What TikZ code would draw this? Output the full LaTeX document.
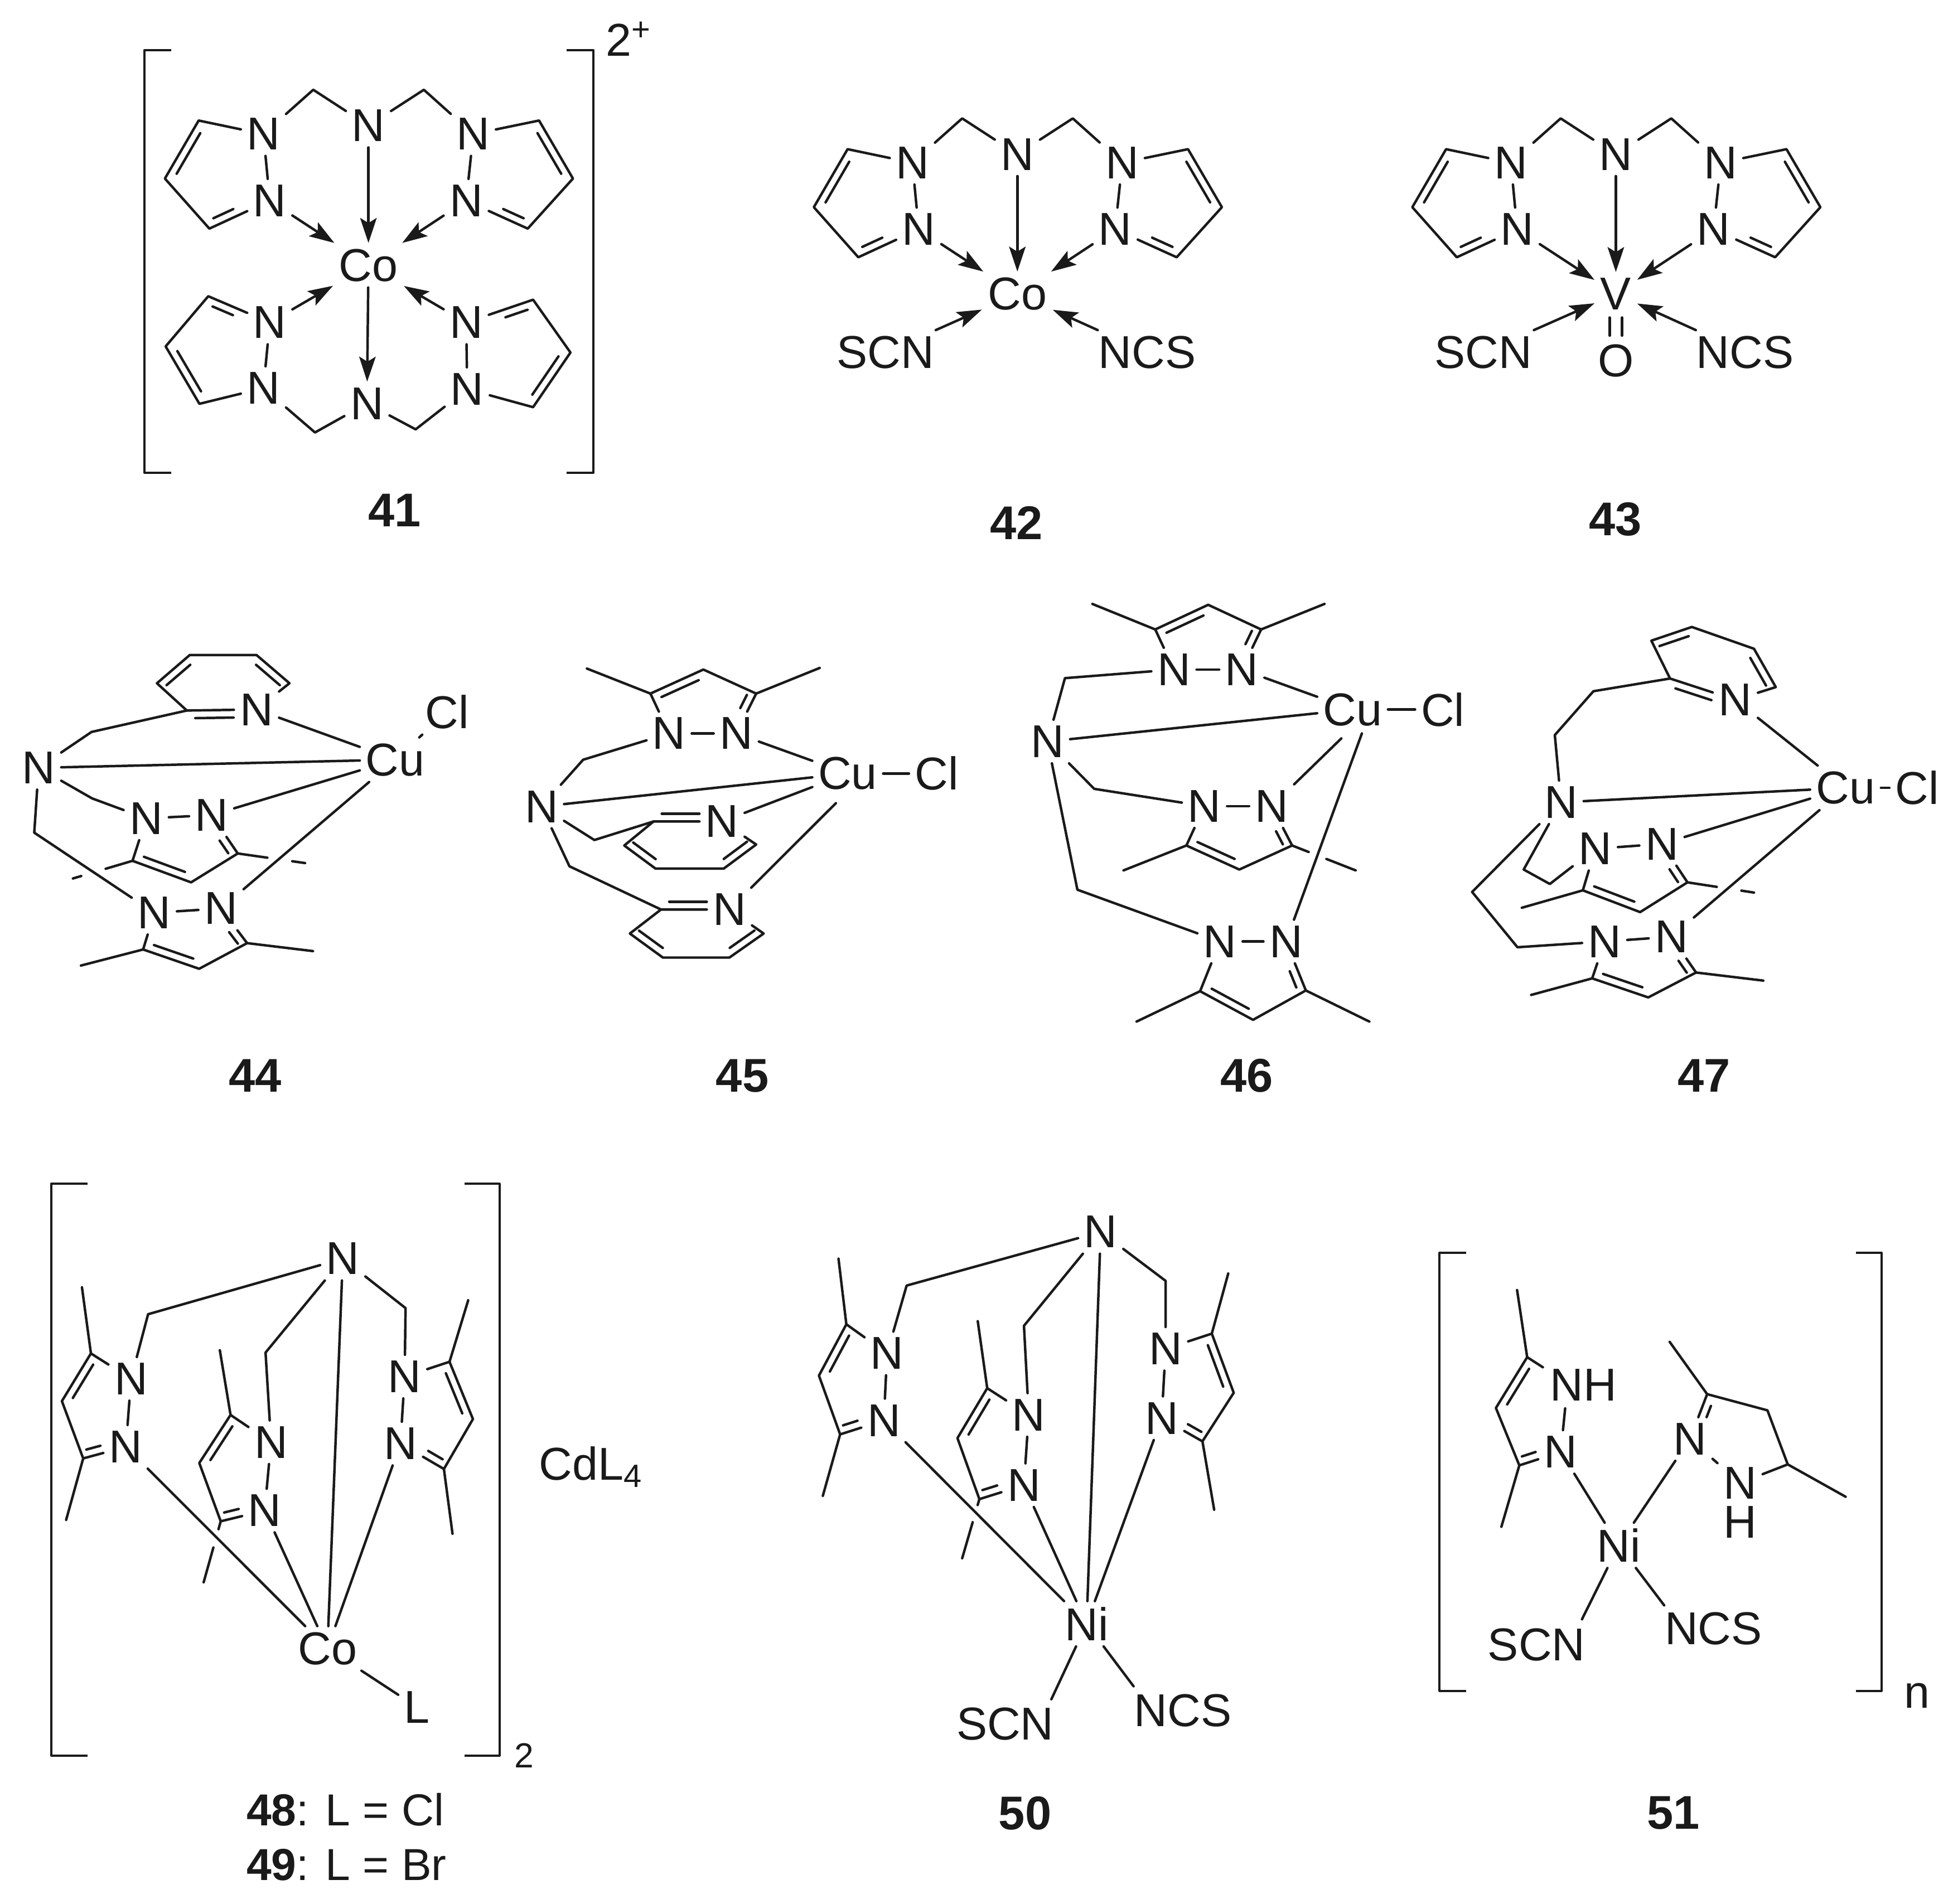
\documentclass[tikz,border=0pt]{standalone}
\usepackage{fontspec}
\setmainfont{Liberation Sans}
\usetikzlibrary{calc,arrows.meta}
\definecolor{ink}{HTML}{1A1A1A}
\tikzset{
  atom/.style={font=\fontsize{18.5}{22}\selectfont, inner sep=2.4pt, outer sep=0pt, text=ink},
  lab/.style={font=\fontsize{18.5}{22}\selectfont, inner sep=0pt, text=ink},
  cmpd/.style={font=\fontsize{19}{22}\selectfont\bfseries, inner sep=0pt, text=ink},
  caption/.style={font=\fontsize{18}{22}\selectfont, inner sep=0pt, text=ink},
  dative/.style={-{Stealth[length=10pt,width=6.6pt,inset=2pt]}},
  bracket/.style={line width=0.85pt,line cap=butt}
}
\newcommand\dblsep{3.1pt}
\newcommand\inb[5]{\draw ($(#1)!#4!(#2)!\dblsep!#3:(#2)$) -- ($(#1)!#5!(#2)!\dblsep!#3:(#2)$);}
\newcommand\pz[7]{%
  \node[atom] (#1a) at (#2) {N};
  \node[atom] (#1b) at (#3) {N};
  \coordinate (#1c) at (#4);
  \coordinate (#1d) at (#5);
  \coordinate (#1e) at (#6);
  \draw (#1a) -- (#1b);
  \draw (#1a) -- (#1c) -- (#1d) -- (#1e) -- (#1b);
  \inb{#1c}{#1d}{#7}{.15}{.85}
  \inb{#1e}{#1b}{#7}{.12}{.45}}
\newcommand\py[8]{%
  \node[atom] (#1n) at (#2) {N};
  \coordinate (#1a) at (#3);
  \coordinate (#1b) at (#4);
  \coordinate (#1c) at (#5);
  \coordinate (#1d) at (#6);
  \coordinate (#1e) at (#7);
  \draw (#1n) -- (#1a) -- (#1b) -- (#1c) -- (#1d) -- (#1e) -- (#1n);
  \inb{#1a}{#1n}{#8}{.12}{.67}
  \inb{#1b}{#1c}{#8}{.14}{.86}
  \inb{#1d}{#1e}{#8}{.14}{.86}}
\newcommand\me[3]{\coordinate (#1) at (#3); \draw (#2) -- (#1);}
\newcommand\brk[4]{\draw (#1) -- ($(#1)!#3!(#2)$); \draw ($(#1)!#4!(#2)$) -- (#2);}
\newcommand\topunit[2]{%
  \node[atom] (#1N) at (295.8,100.9) {N};
  \node[atom] (#1M) at (295.8,213) {#2};
  \pz{#1l}{211.5,107.7}{216.6,161.2}{159.5,96.8}{132.4,143.4}{168.1,183.6}{90}
  \pz{#1r}{380,107.7}{374.3,161.2}{432.8,96.8}{460,143.4}{423.7,183.6}{-90}
  \coordinate (#1p) at (251.5,72.1);
  \coordinate (#1q) at (340.3,72.1);
  \draw (#1la) -- (#1p) -- (#1N);
  \draw (#1N) -- (#1q) -- (#1ra);
  \draw[dative] (#1N) -- (#1M);
  \draw[dative] (#1lb) -- (#1M);
  \draw[dative] (#1rb) -- (#1M);}
\begin{document}
\begin{tikzpicture}[x=0.5pt,y=-0.5pt,line width=1pt,line cap=round,line join=round,draw=ink,color=ink]
\useasboundingbox (0,0) rectangle (1568,1529);
\fill[white] (0,0) rectangle (1568,1529);

% ---------- 41
\draw[bracket] (137.5,40.3) -- (115.8,40.3) -- (115.8,379.6) -- (137.5,379.6);
\draw[bracket] (455.1,40.3) -- (476.5,40.3) -- (476.5,379.6) -- (455.1,379.6);
\node[lab,anchor=base west] (charge) at (485.5,45) {2\textsuperscript{+}};
\topunit{A}{Co}
\node[atom] (AN2) at (294.6,324) {N};
\pz{Ab}{211.5,311.7}{216.6,259}{160.1,324.3}{133,278.2}{167.2,237.9}{-90}
\pz{Ac}{375.1,312.5}{374.3,259}{428,327}{458,283.1}{428,240.7}{90}
\coordinate (Ap2) at (252.9,347.3);
\coordinate (Aq2) at (333.7,344.8);
\draw (Aba) -- (Ap2) -- (AN2);
\draw (AN2) -- (Aq2) -- (Aca);
\draw[dative] (AM) -- (AN2);
\draw[dative] (Abb) -- (AM);
\draw[dative] (Acb) -- (AM);
\node[cmpd] (t41) at (317,410) {41};

% ---------- 42
\begin{scope}[shift={(521,23)}]
\topunit{B}{Co}
\end{scope}
\node[atom] (BS) at (711,283) {SCN};
\node[atom] (BT) at (921,283) {NCS};
\draw[dative] (BS) -- (BM);
\draw[dative] (BT) -- (BM);
\node[cmpd] (t42) at (816,420) {42};

% ---------- 43
\begin{scope}[shift={(1001.5,23)}]
\topunit{C}{V}
\end{scope}
\node[atom] (CS) at (1191,283) {SCN};
\node[atom] (CT) at (1401,283) {NCS};
\node[atom] (CO) at (1297.3,289.5) {O};
\draw[dative] (CS) -- (CM);
\draw[dative] (CT) -- (CM);
\draw ($(CM)+(-5,19)$) -- ($(CO)+(-5,-20)$);
\draw ($(CM)+(5,19)$) -- ($(CO)+(5,-20)$);
\node[cmpd] (t43) at (1297,417) {43};

% ---------- 44
\node[atom] (DN) at (31,616.6) {N};
\node[atom] (DM) at (317.3,610.1) {Cu};
\node[atom] (DX) at (358.8,571.6) {Cl};
\draw (DM) -- (DX);
\draw (DN) -- (DM);
\py{Dy}{205.9,569.8}{150,570.6}{126,548.7}{152.4,526}{205.9,526}{232.4,548.7}{-90}
\coordinate (D1) at (73.5,587.8);
\draw (DN) -- (D1) -- (Dya);
\draw (Dyn) -- (DM);
\pz{Dp}{117.4,657.2}{169.9,654.6}{106.4,691.3}{153.4,708.6}{190.9,685.4}{90}
\coordinate (D2) at (74,641.2);
\draw (DN) -- (D2) -- (Dpa);
\draw (Dpb) -- (DM);
\coordinate (Dm1) at (58.5,705.5);
\coordinate (Dm2) at (244.9,693.1);
\brk{Dpc}{Dm1}{.45}{.86}
\brk{Dpe}{Dm2}{.44}{.81}
\pz{Dq}{123.9,733}{177.4,729.6}{114.9,762.5}{159.9,778}{198.4,757.4}{90}
\coordinate (D3) at (27.5,668.7);
\draw (DN) -- (D3) -- (Dqa);
\draw (Dqb) -- (DM);
\me{Dm3}{Dqc}{65,775.4}
\me{Dm4}{Dqe}{251.3,763.8}
\node[cmpd] (t44) at (205,864) {44};

% ---------- 45
\node[atom] (EN) at (434.7,647.7) {N};
\node[atom] (EM) at (680.6,621.2) {Cu};
\node[atom] (EX) at (752,621.2) {Cl};
\draw (EM) -- (EX);
\draw (EN) -- (EM);
\pz{Ep}{537.2,589}{591.1,589}{522.2,557}{564.7,537.7}{607.1,557}{-90}
\me{Em1}{Epc}{471.2,536.9}
\me{Em2}{Epe}{658.1,536.4}
\coordinate (E1) at (468.2,610.1);
\draw (EN) -- (E1) -- (Epa);
\draw (Epb) -- (EM);
\py{Ey}{579.7,659.7}{524.7,659.7}{501.2,679}{526.2,697.5}{581.1,697.5}{607.1,678.2}{90}
\coordinate (E2) at (477.2,674.6);
\draw (EN) -- (E2) -- (Eya);
\draw (Eyn) -- (EM);
\py{Ez}{585.6,730.4}{530.7,730.4}{505.7,749.7}{532.2,769}{585.6,769}{613.1,749.7}{90}
\coordinate (E3) at (457.2,695.7);
\draw (EN) -- (E3) -- (Eza);
\coordinate (E4) at (671.1,645);
\draw (Ezn) -- (E4);
\node[cmpd] (t45) at (596,864) {45};

% ---------- 46
\node[atom] (FN) at (841,595.5) {N};
\node[atom] (FM) at (1085.9,569.8) {Cu};
\node[atom] (FX) at (1158.4,569.8) {Cl};
\draw (FM) -- (FX);
\draw (FN) -- (FM);
\pz{Fp}{942.5,537.7}{997,537.7}{927.5,505.5}{970,485.7}{1012.5,505.5}{-90}
\me{Fm1}{Fpc}{877,485}
\me{Fm2}{Fpe}{1063.4,485}
\coordinate (F1) at (855,544.6);
\draw (FN) -- (F1) -- (Fpa);
\draw (Fpb) -- (FM);
\pz{Fq}{967,647.4}{1021,647.4}{952.5,679}{995,698.3}{1037.4,679}{90}
\me{Fm3}{Fqc}{902,699}
\coordinate (Fm4) at (1088.4,699);
\brk{Fqe}{Fm4}{.26}{.54}
\coordinate (F2) at (878.5,633.5);
\draw (FN) -- (F2) -- (Fqa);
\coordinate (F4) at (1076.9,593);
\draw (Fqb) -- (F4);
\pz{Fr}{979.5,756.1}{1032.5,756.1}{963.5,796}{1006,819}{1048.4,795.4}{90}
\me{Fm5}{Frc}{912.5,820.4}
\me{Fm6}{Fre}{1099.4,820.4}
\coordinate (F3) at (865,714.5);
\draw (FN) -- (F3) -- (Fra);
\coordinate (F5) at (1093.4,589);
\draw (Frb) -- (F5);
\node[cmpd] (t46) at (1001,864) {46};

% ---------- 47
\node[atom] (GN) at (1253.3,644.3) {N};
\node[atom] (GM) at (1481.7,632.7) {Cu};
\node[atom] (GX) at (1539.2,632.7) {Cl};
\draw (GM) -- (GX);
\draw (GN) -- (GM);
\py{Gy}{1393.2,562}{1340.8,544.9}{1325.8,514.5}{1358.3,503.5}{1408.2,521}{1425.7,551.8}{-90}
\coordinate (G1) at (1279.3,555.1);
\coordinate (G2) at (1248.3,590.3);
\draw (GN) -- (G2) -- (G1) -- (Gya);
\draw (Gyn) -- (GM);
\pz{Gp}{1280.8,681.6}{1334.3,677.7}{1270.8,715}{1316.8,732.5}{1354.8,708.6}{90}
\me{Gm1}{Gpc}{1221.8,729}
\coordinate (Gm2) at (1408.2,716.8);
\brk{Gpe}{Gm2}{.44}{.81}
\coordinate (G3) at (1223.3,698.3);
\coordinate (G4) at (1244.3,709.9);
\draw (GN) -- (G3) -- (G4) -- (Gpa);
\draw (Gpb) -- (GM);
\pz{Gq}{1288.3,756.1}{1341.8,752.3}{1278.3,785.7}{1323.3,801}{1361.7,781}{90}
\me{Gm3}{Gqc}{1229.3,799}
\me{Gm4}{Gqe}{1415.7,787.5}
\coordinate (G5) at (1181.9,716.3);
\coordinate (G6) at (1218.3,760.7);
\draw (GN) -- (G5) -- (G6) -- (Gqa);
\draw (Gqb) -- (GM);
\node[cmpd] (t47) at (1368,864) {47};

% ---------- 48/49
\draw[bracket] (70.3,950.7) -- (41.1,950.7) -- (41.1,1409.9) -- (70.3,1409.9);
\draw[bracket] (372.9,950.7) -- (401,950.7) -- (401,1409.9) -- (372.9,1409.9);
\node[lab,font=\fontsize{14}{16}\selectfont] (sub2) at (421,1410) {2};
\node[atom] (HN) at (275.2,1010.8) {N};
\node[atom] (HM) at (262.9,1323.8) {Co};
\node[atom] (HL) at (334.8,1370.9) {L};
\draw (HM) -- (HL);
\draw (HN) -- (HM);
\pz{Hp}{105.2,1107.3}{101.1,1161.9}{73,1086.9}{49.7,1125.2}{66.8,1171.2}{90}
\me{Hm1}{Hpc}{65.8,1033.8}
\me{Hm2}{Hpe}{53.1,1220.6}
\coordinate (H1) at (118.9,1055.4);
\draw (HN) -- (H1) -- (Hpa);
\draw (Hpb) -- (HM);
\pz{Hq}{217.6,1158.2}{212.5,1213.1}{185.1,1136.3}{160,1174.9}{177.2,1221.7}{90}
\me{Hm3}{Hqc}{176.5,1084.3}
\coordinate (Hm4) at (163.5,1270.7);
\brk{Hqe}{Hm4}{.13}{.43}
\coordinate (H2) at (213.2,1086.2);
\draw (HN) -- (H2) -- (Hqa);
\draw (Hqb) -- (HM);
\pz{Hr}{324.9,1105.5}{321.5,1159.3}{360.9,1093.6}{379.7,1139.6}{356.4,1179.7}{-90}
\me{Hm5}{Hrc}{375.9,1044.2}
\me{Hm6}{Hre}{363.3,1231.7}
\coordinate (H3) at (325.6,1050.5);
\draw (HN) -- (H3) -- (Hra);
\draw (Hrb) -- (HM);
\node[lab] (cd) at (474.6,1178) {CdL\textsubscript{4}};
\node[caption,anchor=base west] (t48) at (197,1466) {\textbf{48}: L = Cl};
\node[caption,anchor=base west] (t49) at (197,1510) {\textbf{49}: L = Br};

% ---------- 50
\node[atom] (JN) at (883.7,989.3) {N};
\node[atom] (JM) at (872.4,1304) {Ni};
\draw (JN) -- (JM);
\pz{Jp}{712.2,1086.9}{709.6,1140.7}{679.5,1063.5}{657.5,1104.7}{674.5,1151.9}{90}
\me{Jm1}{Jpc}{673.2,1010.8}
\me{Jm2}{Jpe}{660.6,1201.3}
\coordinate (J1) at (727.9,1032.4);
\draw (JN) -- (J1) -- (Jpa);
\draw (Jpb) -- (JM);
\pz{Jq}{825.9,1136.3}{822.1,1192.7}{792.6,1114.8}{768.7,1154.9}{786.3,1203.9}{90}
\me{Jm3}{Jqc}{785,1061}
\coordinate (Jm4) at (772.5,1251.4);
\brk{Jqe}{Jm4}{.1}{.39}
\coordinate (J2) at (822.1,1064.7);
\draw (JN) -- (J2) -- (Jqa);
\draw (Jqb) -- (JM);
\pz{Jr}{935.8,1083.2}{932.7,1138.9}{972.9,1071}{990.5,1118.5}{965.4,1157.5}{-90}
\me{Jm5}{Jrc}{986.1,1022.7}
\me{Jm6}{Jre}{974.8,1212.4}
\coordinate (J3) at (935.8,1028.6);
\draw (JN) -- (J3) -- (Jra);
\draw (Jrb) -- (JM);
\node[atom] (JS) at (807,1384.6) {SCN};
\node[atom] (JT) at (949.7,1373.5) {NCS};
\coordinate (Js1) at (844.1,1364.6);
\coordinate (Jt1) at (910.1,1354.2);
\draw (JM) -- (Js1);
\draw (JM) -- (Jt1);
\node[cmpd] (t50) at (823,1456) {50};

% ---------- 51
\draw[bracket] (1177.1,1006) -- (1155.7,1006) -- (1155.7,1357.9) -- (1177.1,1357.9);
\draw[bracket] (1490,1006) -- (1510.7,1006) -- (1510.7,1357.9) -- (1490,1357.9);
\node[lab] (nn) at (1539,1361.6) {n};
\node[atom] (KM) at (1299.6,1241) {Ni};
\node[atom] (KS) at (1233.6,1320.8) {SCN};
\node[atom] (KT) at (1375.6,1307.8) {NCS};
\coordinate (Ks1) at (1270.1,1300.4);
\coordinate (Kt1) at (1336.1,1289.2);
\draw (KM) -- (Ks1);
\draw (KM) -- (Kt1);
\node[atom] (Kh) at (1271.4,1112.2) {NH};
\node[atom] (Kb) at (1253.1,1166) {N};
\coordinate (Kc) at (1226.1,1089.9);
\coordinate (Kd) at (1201,1130.7);
\coordinate (Ke) at (1219.8,1176.8);
\coordinate (Kh1) at (1238.7,1098);
\coordinate (Kh2) at (1256.6,1131);
\draw (Kh1) -- (Kc) -- (Kd) -- (Ke) -- (Kb);
\draw (Kh2) -- (Kb);
\inb{Kc}{Kd}{90}{.15}{.85}
\inb{Ke}{Kb}{90}{.12}{.45}
\me{Km1}{Kc}{1218,1036}
\me{Km2}{Ke}{1205.4,1226.1}
\draw (Kb) -- (KM);
\node[atom] (Kn) at (1356.8,1155.6) {N};
\node[atom] (Ko) at (1397,1190.9) {N};
\node[atom,inner sep=0pt] (Kp) at (1397,1222.4) {H};
\coordinate (Kq) at (1370.6,1119.6);
\coordinate (Kr) at (1419,1132.6);
\coordinate (Ks) at (1435.3,1176);
\draw (Kn) -- (Kq) -- (Kr) -- (Ks) -- (Ko) -- (Kn);
\inb{Kq}{Kn}{90}{.2}{.45}
\me{Km3}{Kq}{1340.5,1077.6}
\me{Km4}{Ks}{1481.8,1202}
\draw (Kn) -- (KM);
\node[cmpd] (t51) at (1343.6,1456) {51};
\end{tikzpicture}
\end{document}
